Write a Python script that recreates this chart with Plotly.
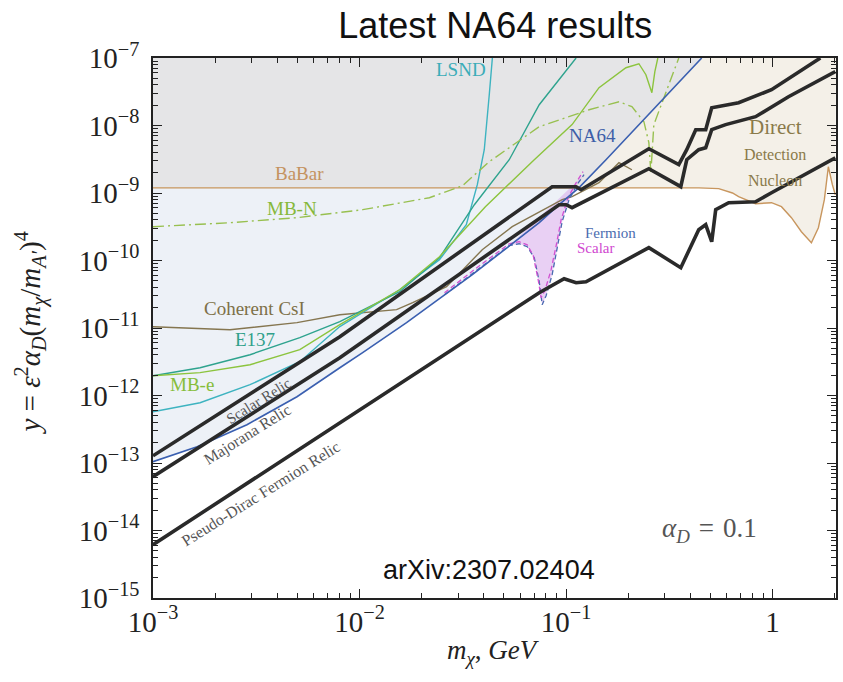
import numpy as np
import plotly.graph_objects as go

# ---------------- data: m_chi [GeV] vs y = eps^2 alpha_D (m_chi/m_A')^4 ----------------
na64_m = [0.001, 1.636e-3, 2.85e-3, 4.98e-3, 8.03e-3, 1.036e-2, 1.69e-2, 3.52e-2,
          7.42e-2, 9.26e-2, 0.1157, 0.1562, 0.4542]
na64_y = [1.045e-13, 1.74e-13, 3.69e-13, 9.60e-13, 2.58e-12, 4.31e-12, 1.20e-11, 6.16e-11,
          3.63e-10, 6.71e-10, 1.20e-9, 3.11e-9, 1.0e-7]

babar_m = [0.001, 0.1445, 0.44, 0.5488, 0.64, 0.6853, 0.8279, 0.989, 1.105, 1.235,
           1.38, 1.543, 1.668, 1.783, 1.864, 1.949, 2.015]
babar_y = [1.19e-9, 1.20e-9, 1.19e-9, 1.16e-9, 1.0e-9, 8.82e-10, 6.94e-10, 7.18e-10, 6.27e-10, 4.31e-10,
           2.67e-10, 1.835e-10, 3.06e-10, 7.96e-10, 2.45e-9, 1.33e-9, 9.44e-10]

scalar_relic_m = [0.001, 8.03e-3, 8.57e-2, 0.1119, 0.1183, 0.2519, 0.3517, 0.3843, 0.4249,
                  0.4748, 0.5077, 0.6853, 0.989, 1.705]
scalar_relic_y = [1.28e-13, 7.43e-12, 1.24e-9, 1.24e-9, 1.12e-9, 4.53e-9, 2.63e-9, 4.38e-9, 8.67e-9,
                  8.67e-9, 1.835e-8, 2.18e-8, 3.39e-8, 1.0e-7]

majorana_relic_m = [0.001, 8.03e-3, 9.26e-2, 0.1001, 0.107, 0.2519, 0.3596, 0.3843, 0.4393,
                    0.4748, 0.5077, 0.5932, 0.8279, 1.195, 2.015]
majorana_relic_y = [6.27e-14, 3.63e-12, 6.71e-10, 6.71e-10, 6.06e-10, 2.29e-9, 1.24e-9, 3.11e-9, 4.38e-9,
                    4.69e-9, 8.67e-9, 1.03e-8, 1.35e-8, 2.67e-8, 6.27e-8]

pdirac_relic_m = [0.001, 7.42e-2, 9.79e-2, 0.1119, 0.125, 0.2519, 0.3596, 0.4393, 0.4748,
                  0.5077, 0.5308, 0.6134, 0.8279, 0.989, 2.015]
pdirac_relic_y = [6.16e-15, 3.33e-11, 5.37e-11, 4.69e-11, 4.85e-11, 1.55e-10, 7.82e-11, 2.86e-10, 3.39e-10,
                  1.90e-10, 5.66e-10, 7.18e-10, 7.43e-10, 1.01e-9, 3.33e-9]

coherent_m = [0.001, 2.36e-3, 4.98e-3, 8.03e-3, 1.512e-2, 1.81e-2, 2.64e-2, 3.93e-2, 5.49e-2,
              9.58e-2, 0.107, 0.1445, 0.1805, 0.2085]
coherent_y = [1.045e-11, 9.44e-12, 1.20e-11, 1.57e-11, 1.87e-11, 2.37e-11, 4.09e-11, 1.445e-10, 3.17e-10,
              7.96e-10, 8.82e-10, 1.42e-9, 2.81e-9, 2.21e-9]

lsnd_m = [0.001, 1.69e-3, 2.95e-3, 5.14e-3, 8.03e-3, 1.564e-2, 2.44e-2, 3.29e-2, 3.72e-2,
          4.02e-2, 4.25e-2, 4.40e-2]
lsnd_y = [5.75e-13, 7.82e-13, 1.445e-12, 3.17e-12, 1.05e-11, 3.69e-11, 1.03e-10, 3.39e-10, 1.33e-9,
          4.38e-9, 2.86e-8, 1.0e-7]

e137_m = [0.001, 1.69e-3, 2.95e-3, 5.14e-3, 8.03e-3, 1.564e-2, 2.44e-2, 3.60e-2, 5.31e-2, 7.42e-2, 0.1119]
e137_y = [1.96e-12, 2.58e-12, 4.02e-12, 7.18e-12, 1.24e-11, 3.45e-11, 1.10e-10, 6.71e-10, 3.11e-9,
          2.03e-8, 1.0e-7]

mbe_m = [0.001, 1.69e-3, 2.95e-3, 5.14e-3, 8.03e-3, 1.564e-2, 2.44e-2, 4.07e-2, 7.02e-2, 0.107,
         0.1445, 0.1951, 0.2254, 0.2437, 0.2605, 0.2693, 0.2784]
mbe_y = [1.96e-12, 2.18e-12, 2.86e-12, 4.77e-12, 1.12e-11, 3.69e-11, 1.138e-10, 6.27e-10, 3.11e-9, 1.03e-8,
         3.63e-8, 7.18e-8, 8.23e-8, 5.66e-8, 3.06e-8, 6.27e-8, 1.0e-7]

mbn_m = [0.001, 2.36e-3, 4.98e-3, 1.036e-2, 2.18e-2, 3.15e-2, 4.25e-2, 7.42e-2, 0.1293, 0.1805,
         0.2085, 0.2384, 0.2519, 0.2576, 0.2663, 0.3078, 0.3517]
mbn_y = [3.17e-10, 3.63e-10, 4.31e-10, 5.66e-10, 8.52e-10, 1.28e-9, 2.91e-9, 9.60e-9, 1.71e-8, 2.25e-8,
         1.90e-8, 1.138e-8, 5.56e-9, 2.0e-9, 1.03e-8, 3.39e-8, 1.0e-7]

fermion_m = [2.58e-2, 3.81e-2, 5.31e-2, 5.93e-2, 6.49e-2, 7.02e-2, 7.42e-2, 7.67e-2, 8.01e-2,
             8.57e-2, 9.06e-2, 9.58e-2, 0.1035, 0.1131, 0.1223]
fermion_y = [3.11e-11, 7.82e-11, 1.66e-10, 1.77e-10, 1.60e-10, 1.10e-10, 4.85e-11, 2.21e-11, 3.01e-11,
             6.16e-11, 1.445e-10, 3.76e-10, 7.96e-10, 1.33e-9, 1.87e-9]

scalar_m = [2.58e-2, 3.81e-2, 5.31e-2, 5.93e-2, 6.49e-2, 6.94e-2, 7.33e-2, 7.58e-2, 7.93e-2,
            8.47e-2, 8.96e-2, 9.47e-2, 0.1023, 0.1119, 0.1209]
scalar_y = [3.33e-11, 8.38e-11, 1.77e-10, 1.90e-10, 1.71e-10, 1.18e-10, 5.19e-11, 2.81e-11, 3.69e-11,
            7.31e-11, 1.66e-10, 4.02e-10, 8.52e-10, 1.42e-9, 2.07e-9]

x_range = [1e-3, 2.03]
y_range = [1e-15, 1e-7]
y_ticks = [10.0 ** k for k in range(-15, -6)]
y_ticktext = ["10<sup>\u2212%d</sup>" % -k for k in range(-15, -6)]
x_ticks = [1e-3, 1e-2, 1e-1, 1]
x_ticktext = ["10<sup>\u22123</sup>", "10<sup>\u22122</sup>", "10<sup>\u22121</sup>", "1"]

SERIF = "Liberation Serif"
SANS = "Liberation Sans"

# ---------------- excluded regions ----------------
na64_lm, na64_ly = np.log10(na64_m), np.log10(na64_y)
babar_level = babar_y[0]
# point where the NA64 limit crosses the BaBar plateau
xc_log = np.interp(np.log10(babar_level), na64_ly, na64_lm)
xc = 10 ** xc_log
na64_m_arr, na64_y_arr = np.array(na64_m), np.array(na64_y)
above = na64_m_arr > xc
below = na64_m_arr < xc
bab_m_arr, bab_y_arr = np.array(babar_m), np.array(babar_y)
dd_sel = bab_m_arr > xc

# grey: above BaBar, left of NA64
grey_x = [x_range[0], xc] + list(na64_m_arr[above]) + [x_range[0]]
grey_y = [babar_level, babar_level] + list(na64_y_arr[above]) + [y_range[1]]
# light blue: below BaBar, above NA64
blue_x = [x_range[0], xc] + list(na64_m_arr[below][::-1])
blue_y = [babar_level, babar_level] + list(na64_y_arr[below][::-1])
# beige: direct detection, right of NA64
dd_x = [xc] + list(na64_m_arr[above]) + [x_range[1]] + list(bab_m_arr[dd_sel][::-1])
dd_y = [babar_level] + list(na64_y_arr[above]) + [y_range[1]] + list(bab_y_arr[dd_sel][::-1])

fig = go.Figure()

def region(xs, ys, color):
    fig.add_trace(go.Scatter(x=xs, y=ys, fill="toself", fillcolor=color, mode="lines",
                             line=dict(width=0), hoverinfo="skip", showlegend=False))

region(grey_x, grey_y, "#e5e5e7")
region(blue_x, blue_y, "#edf1f7")
region(dd_x, dd_y, "#f4f0e8")
region(fermion_m[2:], fermion_y[2:], "rgba(215,170,235,0.55)")

def curve(xs, ys, color, width=1.4, dash="solid"):
    fig.add_trace(go.Scatter(x=xs, y=ys, mode="lines",
                             line=dict(color=color, width=width, dash=dash),
                             hoverinfo="skip", showlegend=False))

curve(babar_m, babar_y, "#c8965e")
curve(coherent_m, coherent_y, "#857650")
curve(lsnd_m, lsnd_y, "#3db3c0")
curve(e137_m, e137_y, "#2ea38e")
curve(mbe_m, mbe_y, "#8cc43e")
curve(mbn_m, mbn_y, "#98c050", dash="11px,4px,2px,4px")
curve(fermion_m, fermion_y, "#4a6ab0", width=1.3, dash="5px,3px")
curve(scalar_m, scalar_y, "#d050d0", width=1.3, dash="5px,3px")
curve(na64_m, na64_y, "#3a5fb0", width=1.6)
curve(scalar_relic_m, scalar_relic_y, "#2a2a2a", width=3.6)
curve(majorana_relic_m, majorana_relic_y, "#2a2a2a", width=3.6)
curve(pdirac_relic_m, pdirac_relic_y, "#2a2a2a", width=3.6)

# ---------------- labels ----------------
def label(text, x, y, color, size=19, angle=0, family=SERIF):
    fig.add_annotation(text=text, x=x, y=y, xref="paper", yref="paper", showarrow=False,
                       font=dict(family=family, size=size, color=color), textangle=angle,
                       xanchor="center", yanchor="middle")

label("LSND", 0.4515, 0.978, "#3aacb8")
label("NA64", 0.643, 0.856, "#3d5ea8")
label("BaBar", 0.215, 0.786, "#c49260")
label("MB-N", 0.203, 0.721, "#86b83a")
label("Coherent CsI", 0.149, 0.536, "#7d7048")
label("E137", 0.149, 0.478, "#2fa08a")
label("MB-e", 0.057, 0.395, "#86bd3a")
label("Fermion", 0.6705, 0.676, "#4a6cb0", size=15)
label("Scalar", 0.6486, 0.6485, "#d048d0", size=15)
label("Direct", 0.9114, 0.8727, "#8a7a4a", size=21)
label("Detection", 0.9114, 0.8208, "#8a7a4a", size=16)
label("Nucleon", 0.9114, 0.7727, "#8a7a4a", size=16)
label("Scalar Relic", 0.1545, 0.3655, "#555555", size=15, angle=-32)
label("Majorana Relic", 0.1377, 0.3020, "#555555", size=16, angle=-32)
label("Pseudo-Dirac Fermion Relic", 0.1581, 0.1940, "#555555", size=16, angle=-32)
label("<i>\u03b1<sub>D</sub></i>\u2004=\u20040.1", 0.815, 0.126, "#555555", size=27)
label("arXiv:2307.02404", 0.4924, 0.052, "#111111", size=27, family=SANS)

# axis titles
label("<i>y</i> = <i>\u03b5</i><sup>2</sup><i>\u03b1<sub>D</sub></i>(<i>m<sub>\u03c7</sub></i>/<i>m<sub>A\u2032</sub></i>)<sup>4</sup>",
      -0.179, 0.491, "#222222", size=29, angle=-90)
label("<i>m<sub>\u03c7</sub></i>, <i>GeV</i>", 0.4985, -0.100, "#222222", size=27)

axis_common = dict(type="log", showline=True, mirror="allticks", linecolor="#222222", linewidth=1.5,
                   ticks="inside", ticklen=9, tickwidth=1.2, tickcolor="#222222",
                   showgrid=False, zeroline=False,
                   tickfont=dict(family=SERIF, size=29, color="#222222"),
                   minor=dict(ticks="inside", ticklen=5, tickwidth=1, tickcolor="#222222",
                              dtick="D1", showgrid=False))

fig.update_layout(
    width=843, height=682,
    margin=dict(l=153, r=5, t=58, b=84),
    paper_bgcolor="white", plot_bgcolor="white",
    title=dict(text="Latest NA64 results", x=0.5875, xanchor="center", y=1 - 25 / 682, yanchor="middle",
               font=dict(family=SANS, size=36, color="#111111")),
    xaxis=dict(axis_common, range=[np.log10(x_range[0]), np.log10(x_range[1])],
               tickmode="array", tickvals=x_ticks, ticktext=x_ticktext, ticklabelstandoff=-3),
    yaxis=dict(axis_common, range=[np.log10(y_range[0]), np.log10(y_range[1])],
               tickmode="array", tickvals=y_ticks, ticktext=y_ticktext, ticklabelstandoff=6),
)

fig.write_html("out.html")
